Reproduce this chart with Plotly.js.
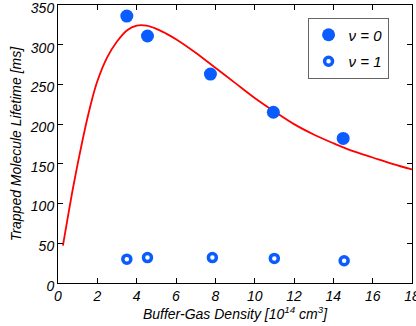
<!DOCTYPE html>
<html>
<head>
<meta charset="utf-8">
<script src="https://cdn.plot.ly/plotly-3.0.1.min.js"></script>
<style>html,body{margin:0;padding:0;background:#fff;}#chart{width:416px;height:326px;}</style>
</head>
<body>
<div id="chart"></div>
<script>
// v = 0 data
const densV0 = [3.5, 4.55, 7.75, 10.95, 14.5];
const lifeV0 = [336, 311, 263, 215, 182];
// v = 1 data
const densV1 = [3.5, 4.55, 7.85, 11.0, 14.55];
const lifeV1 = [30, 32, 32, 31, 28];
// fitted curve
const fitX = [0.25, 0.5, 0.75, 1.0, 1.25, 1.5, 1.75, 2.0, 2.5, 3.0, 3.5, 4.0, 4.5, 5.0, 5.5, 6.0, 7.0, 8.0, 9.0, 10.0, 11.0, 12.0, 13.0, 14.0, 15.0, 16.0, 17.0, 18.0];
const fitY = [47, 83, 118, 150, 180, 208, 233, 254, 284, 304, 318, 324, 324, 320, 314, 307, 290, 271, 252, 233, 216, 200, 187, 176, 166, 158, 150, 143];
const xTicks = [0, 2, 4, 6, 8, 10, 12, 14, 16, 18];
const yTicks = [0, 50, 100, 150, 200, 250, 300, 350];

const blue = '#0a5cff';
const fnt = {family: 'Liberation Sans, Arial, sans-serif', size: 14, color: '#000', style: 'italic'};

const traces = [
  {x: fitX, y: fitY, type: 'scatter', mode: 'lines', line: {color: '#ff0000', width: 1.8, shape: 'spline', smoothing: 1}, showlegend: false, hoverinfo: 'skip'},
  {x: densV0, y: lifeV0, type: 'scatter', mode: 'markers', name: '<i>ν = 0</i>', legendgroup: 'a',
   marker: {color: blue, size: 13, line: {width: 0}}},
  {x: densV1, y: lifeV1, type: 'scatter', mode: 'markers', name: '<i>ν = 1</i>', legendgroup: 'b',
   marker: {color: 'rgba(0,0,0,0)', size: 8, line: {color: blue, width: 3.5}}}
];

const axisCommon = {showgrid: false, zeroline: false, showline: true, linecolor: '#000', linewidth: 1,
  ticks: 'inside', ticklen: 5, tickcolor: '#000', mirror: 'ticks', tickfont: fnt, ticklabeloverflow: 'allow'};

const layout = {
  width: 416, height: 326,
  margin: {l: 58, r: 4, t: 5, b: 43},
  paper_bgcolor: '#fff', plot_bgcolor: '#fff',
  font: fnt,
  xaxis: Object.assign({}, axisCommon, {range: [0, 18], tickvals: xTicks, ticktext: xTicks.map(String),
    title: {text: 'Buffer-Gas Density [10<sup>14</sup> cm<sup>3</sup>]', font: fnt, standoff: 4}}),
  yaxis: Object.assign({}, axisCommon, {range: [0, 350], tickvals: yTicks, ticktext: yTicks.map(String),
    ticklabelshift: 3,
    title: {text: 'Trapped Molecule Lifetime [ms]', font: fnt, standoff: 4}}),
  legend: {x: 0.705, y: 0.955, xanchor: 'left', yanchor: 'top', bgcolor: '#fff', bordercolor: '#666', borderwidth: 1,
    font: {family: 'Liberation Sans, Arial, sans-serif', size: 15, color: '#000', style: 'italic'},
    tracegroupgap: 4, traceorder: 'grouped', itemwidth: 30}
};

Plotly.newPlot('chart', traces, layout, {displayModeBar: false, staticPlot: true});
</script>
</body>
</html>
